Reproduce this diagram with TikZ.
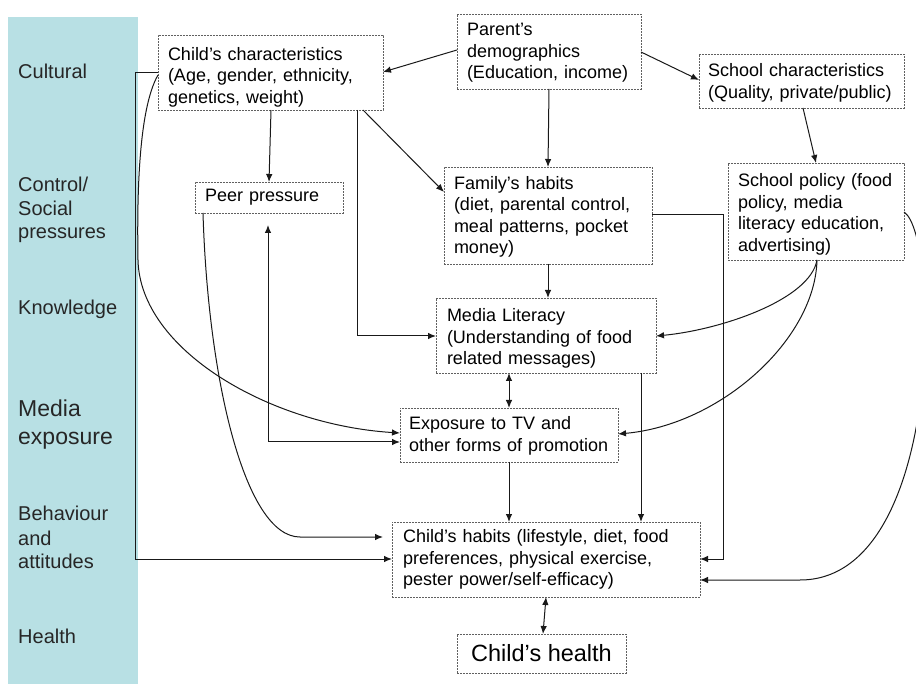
\documentclass[tikz,border=0pt]{standalone}
\usepackage{fontspec}
\setmainfont{Liberation Sans}
\usetikzlibrary{arrows.meta}
\definecolor{strip}{RGB}{184,224,228}
\newcommand\boxfont{\fontsize{18}{21.5}\selectfont}
\newcommand\labfont{\fontsize{20}{24}\selectfont}
\newcommand\bigfont{\fontsize{23}{28}\selectfont}
\newcommand\healthfont{\fontsize{23.5}{28}\selectfont}
\begin{document}
\begin{tikzpicture}[x=1pt,y=-1pt,
  box/.style={draw=gray!75!black, dash pattern=on 2pt off 1pt, line width=0.8pt,
    inner xsep=10pt, inner ysep=0pt, outer sep=0pt, align=left, font=\boxfont, anchor=center},
  textdown/.style={execute at begin node={\rule{0pt}{\dimexpr 12.9pt+#1\relax}}},
  lab/.style={anchor=base west, inner sep=0pt, font=\labfont, text=black!85},
  tip/.tip={Latex[length=8pt,width=6.5pt]},
  arr/.style={draw=black!90, line width=1pt, -tip},
  arrtwo/.style={draw=black!90, line width=1pt, tip-tip}]
\useasboundingbox (0,0) rectangle (916,684);
\clip (0,0) rectangle (916,684);
\fill[white] (0,0) rectangle (916,684);
\fill[strip] (8,17) rectangle (138,684);

% left labels
\node[lab] (l1) at (18,79) {Cultural};
\node[lab] (l2a) at (18,192) {Control/};
\node[lab] (l2b) at (18,215.5) {Social};
\node[lab] (l2c) at (18,239) {pressures};
\node[lab] (l3) at (18,315) {Knowledge};
\node[lab,font=\bigfont] (l4a) at (18,417) {Media};
\node[lab,font=\bigfont] (l4b) at (18,445) {exposure};
\node[lab] (l5a) at (18,520) {Behaviour};
\node[lab] (l5b) at (18,545) {and};
\node[lab] (l5c) at (18,568) {attitudes};
\node[lab] (l6) at (18,643) {Health};

% boxes
\node[box, textdown=9pt, minimum width=225pt, minimum height=75pt, text width=205pt] (cc) at (270.5,72.5)
  {Child’s characteristics\\(Age, gender, ethnicity,\\genetics, weight)};
\node[box, textdown=2pt, minimum width=184pt, minimum height=75pt, text width=164pt] (pd) at (549,51.5)
  {Parent’s\\demographics\\(Education, income)};
\node[box, textdown=4pt, inner xsep=9pt, minimum width=205pt, minimum height=54pt, text width=187pt] (sc) at (801.5,81)
  {School characteristics\\(Quality, private/public)};
\node[box, minimum width=148pt, minimum height=31pt, text width=128pt] (pp) at (269,197.5)
  {Peer pressure};
\node[box, textdown=3pt, minimum width=208pt, minimum height=97pt, text width=188pt] (fh) at (548,215.5)
  {Family’s habits\\(diet, parental control,\\meal patterns, pocket\\money)};
\node[box, textdown=6pt, minimum width=176pt, minimum height=97pt, text width=156pt] (sp) at (816,211.5)
  {School policy (food\\policy, media\\literacy education,\\advertising)};
\node[box, textdown=6pt, inner xsep=11pt, minimum width=220pt, minimum height=75pt, text width=198pt] (ml) at (546,335.5)
  {Media Literacy\\(Understanding of food\\related messages)};
\node[box, textdown=2pt, inner xsep=9pt, minimum width=218pt, minimum height=54pt, text width=200pt] (ex) at (509,435)
  {Exposure to TV and\\other forms of promotion};
\node[box, inner xsep=11pt, minimum width=308pt, minimum height=75pt, text width=286pt] (ch) at (546,559.5)
  {Child’s habits (lifestyle, diet, food\\preferences, physical exercise,\\pester power/self-efficacy)};
\node[box, align=center, font=\healthfont, minimum width=169pt, minimum height=39pt] (hl) at (541.5,653.5)
  {Child’s health};

% connectors
\draw[arr] (pd.west |- 0,50) -- (cc.east |- 0,72);
\draw[arr] (pd.east |- 0,52) -- (sc.west |- 0,80);
\draw[arr] (549,0 |- pd.south) -- (548,0 |- fh.north);
\draw[arr] (803,0 |- sc.south) -- (816,0 |- sp.north);
\draw[arr] (271,0 |- cc.south) -- (269,0 |- pp.north);
\draw[arr] (363,0 |- cc.south) -- (fh.west |- 0,192);
\draw[arr] (357,0 |- cc.south) |- (ml.west |- 0,336);
\draw[arr] (548,0 |- fh.south) -- (548,0 |- ml.north);
\draw[arr] (fh.east |- 0,215) -- (723,215) -- (723,559) -- (ch.east |- 0,559);
\draw[arr] (641,0 |- ml.south) -- (641,0 |- ch.north);
\draw[arr] (509,0 |- ex.south) -- (509,0 |- ch.north);
\draw[arrtwo] (509,0 |- ml.south) -- (509,0 |- ex.north);
\draw[arrtwo] (546,0 |- ch.south) -- (543,0 |- hl.north);
\draw[arr] (817,0 |- sp.south) .. controls (810,300) and (720,330) .. (ml.east |- 0,336);
\draw[arr] (817,0 |- sp.south) .. controls (815,340) and (720,425) .. (ex.east |- 0,434);
\draw[arr] (sp.east |- 0,212) .. controls (940,235) and (945,580) .. (800,580) -- (ch.east |- 0,580);
\draw[arr, shorten >=9pt] (203,0 |- pp.south) .. controls (208,380) and (245,537) .. (300,537) -- (ch.west |- 0,537);
\draw[arrtwo, shorten <=12pt] (268,0 |- pp.south) |- (ex.west |- 0,442);
\draw[arr] (cc.west |- 0,75) .. controls (138,110) and (137,200) .. (138,260)
  .. controls (140,350) and (270,425) .. (ex.west |- 0,433);
\draw[arr] (cc.west |- 0,73) -- (135,73) -- (135,559) -- (ch.west |- 0,559);
\end{tikzpicture}
\end{document}
